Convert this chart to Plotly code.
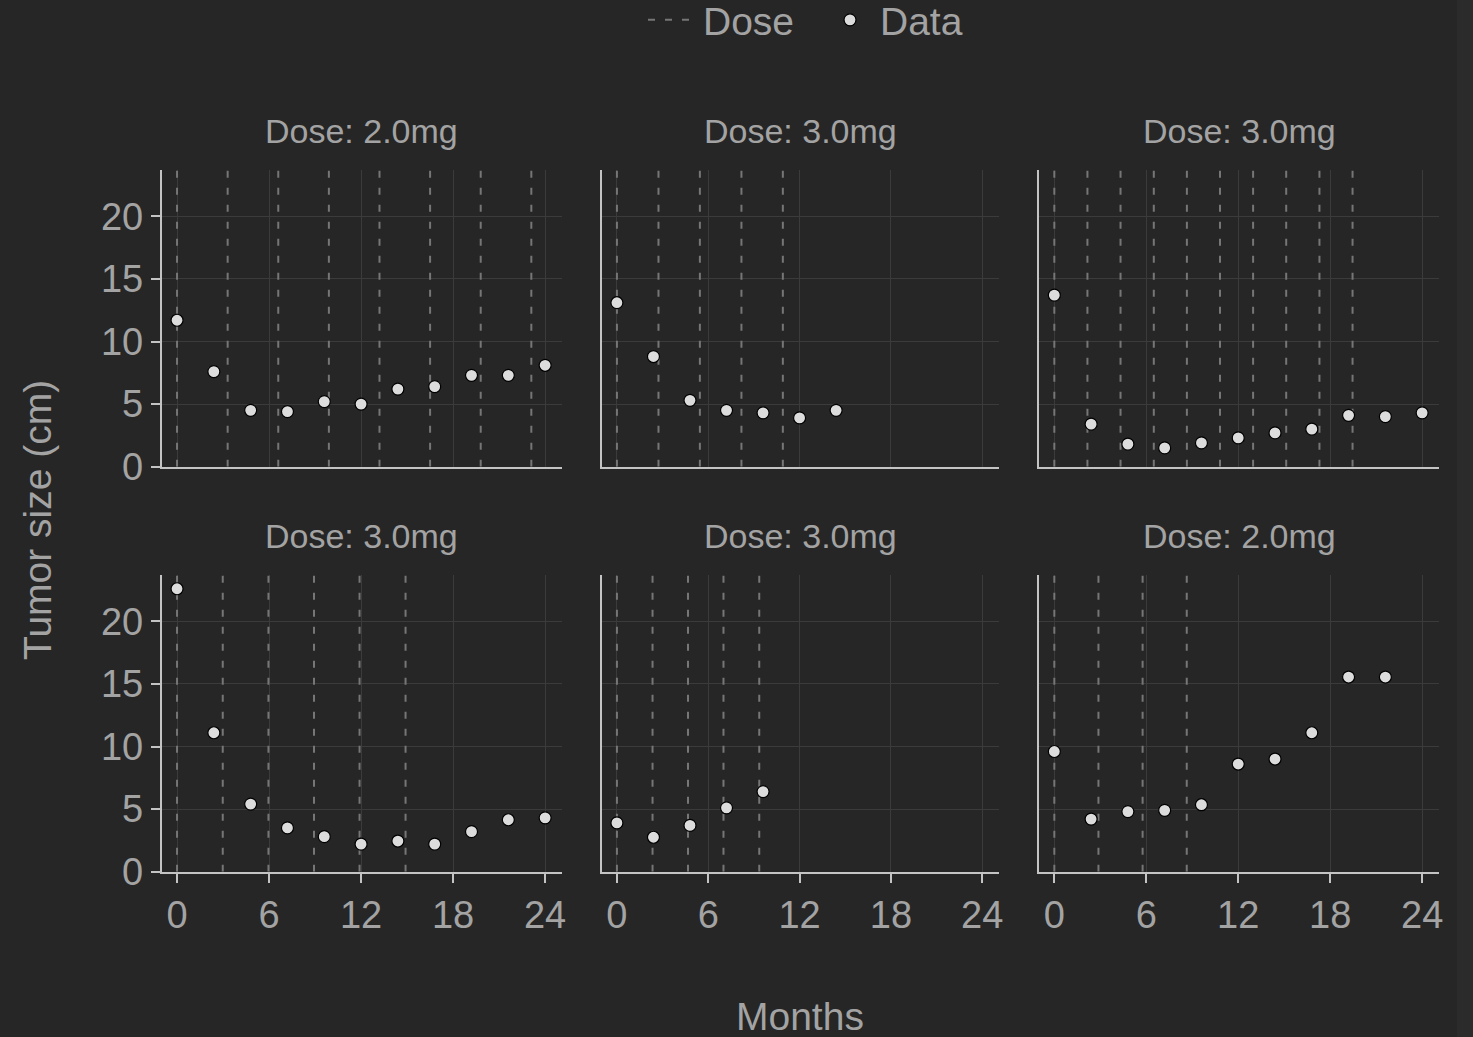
import plotly.graph_objects as go

# ---------------- data ----------------
times = [0, 2.4, 4.8, 7.2, 9.6, 12, 14.4, 16.8, 19.2, 21.6, 24]

dose_labels = ["2.0mg", "3.0mg", "3.0mg", "3.0mg", "3.0mg", "2.0mg"]

size_p1 = [11.7, 7.6, 4.5, 4.4, 5.2, 5.0, 6.2, 6.4, 7.3, 7.3, 8.1]
size_p2 = [13.1, 8.8, 5.3, 4.5, 4.3, 3.9, 4.5]
size_p3 = [13.7, 3.4, 1.8, 1.5, 1.9, 2.3, 2.7, 3.0, 4.1, 4.0, 4.3]
size_p4 = [22.6, 11.1, 5.4, 3.5, 2.8, 2.2, 2.45, 2.2, 3.2, 4.15, 4.3]
size_p5 = [3.9, 2.75, 3.7, 5.1, 6.4]
size_p6 = [9.6, 4.2, 4.8, 4.9, 5.35, 8.6, 9.0, 11.1, 15.55, 15.55]

dose_p1 = [0, 3.3, 6.6, 9.9, 13.2, 16.5, 19.8, 23.1]
dose_p2 = [0, 2.73, 5.45, 8.18, 10.9]
dose_p3 = [0, 2.16, 4.32, 6.49, 8.65, 10.81, 12.97, 15.13, 17.3, 19.46]
dose_p4 = [0, 2.98, 5.96, 8.93, 11.9, 14.9]
dose_p5 = [0, 2.34, 4.67, 7.0, 9.35]
dose_p6 = [0, 2.88, 5.76, 8.64]

sizes = [size_p1, size_p2, size_p3, size_p4, size_p5, size_p6]
doses = [dose_p1, dose_p2, dose_p3, dose_p4, dose_p5, dose_p6]

x_ticks = [0, 6, 12, 18, 24]
y_ticks = [0, 5, 10, 15, 20]
x_range = [-1.0, 25.1]
y_range = [0, 23.7]

# ---------------- style ----------------
W, H = 1473, 1037
BG = "#262626"
TEXT = "#a3a3a3"
SPINE = "#c4c4c4"
GRID = "#3b3b3b"
DOSE_C = "#767676"
FONT = "Liberation Sans, Arial, sans-serif"

col_px = [(161.7, 562.0), (601.7, 999.0), (1039.0, 1439.0)]
row_px = [(170.0, 466.7), (575.0, 871.7)]

fig = go.Figure()
layout_axes = {}
annotations = []

for i in range(6):
    r, c = divmod(i, 3)
    ax = "" if i == 0 else str(i + 1)
    xa, ya = "x" + ax, "y" + ax
    xd = [col_px[c][0] / W, col_px[c][1] / W]
    yd = [1 - row_px[r][1] / H, 1 - row_px[r][0] / H]

    # dose lines
    dx, dy = [], []
    for d in doses[i]:
        dx += [d, d, None]
        dy += [y_range[0], y_range[1], None]
    fig.add_trace(go.Scatter(
        x=dx, y=dy, mode="lines", xaxis=xa, yaxis=ya,
        line=dict(color=DOSE_C, width=2, dash="7px,10px"),
        name="Dose", legendgroup="dose", showlegend=(i == 0),
        hoverinfo="skip"))
    # data
    fig.add_trace(go.Scatter(
        x=times[:len(sizes[i])], y=sizes[i], mode="markers",
        xaxis=xa, yaxis=ya,
        marker=dict(size=12, color="#dcdcdc", line=dict(color="#000000", width=1.2)),
        name="Data", legendgroup="data", showlegend=(i == 0)))

    bottom = (r == 1)
    left = (c == 0)
    layout_axes["xaxis" + ax] = dict(
        domain=xd, range=x_range, anchor=ya, automargin=False,
        tickvals=x_ticks, showticklabels=bottom,
        ticks="outside" if bottom else "", ticklen=9, tickwidth=1.5, tickcolor=SPINE,
        showgrid=True, gridcolor=GRID, gridwidth=1, zeroline=False,
        showline=True, linecolor=SPINE, linewidth=1.8,
        tickfont=dict(family=FONT, size=38, color=TEXT))
    layout_axes["yaxis" + ax] = dict(
        domain=yd, range=y_range, anchor=xa, automargin=False,
        tickvals=y_ticks, showticklabels=left,
        ticks="outside" if left else "", ticklen=9, tickwidth=1.5, tickcolor=SPINE,
        showgrid=True, gridcolor=GRID, gridwidth=1, zeroline=False,
        showline=True, linecolor=SPINE, linewidth=1.8,
        tickfont=dict(family=FONT, size=38, color=TEXT))

    annotations.append(dict(
        text="Dose: " + dose_labels[i], xref="paper", yref="paper",
        x=(xd[0] + xd[1]) / 2, y=1 - (row_px[r][0] - 39) / H,
        xanchor="center", yanchor="middle", showarrow=False,
        font=dict(family=FONT, size=34, color=TEXT)))

annotations.append(dict(
    text="Months", xref="paper", yref="paper", x=800 / W, y=1 - 1016 / H,
    xanchor="center", yanchor="middle", showarrow=False,
    font=dict(family=FONT, size=39, color=TEXT)))
annotations.append(dict(
    text="Tumor size (cm)", xref="paper", yref="paper", x=37 / W, y=1 - 520 / H,
    xanchor="center", yanchor="middle", showarrow=False, textangle=-90,
    font=dict(family=FONT, size=39, color=TEXT)))

fig.update_layout(
    template="none",
    width=W, height=H,
    margin=dict(l=0, r=0, t=0, b=0, autoexpand=False),
    paper_bgcolor=BG, plot_bgcolor=BG,
    font=dict(family=FONT, color=TEXT),
    showlegend=True,
    legend=dict(orientation="h", x=820 / W, y=1 - 20 / H, xanchor="center", yanchor="middle",
                font=dict(family=FONT, size=39, color=TEXT), bgcolor="rgba(0,0,0,0)",
                itemwidth=50, entrywidth=112, tracegroupgap=0),
    annotations=annotations,
    shapes=[dict(type="rect", xref="paper", yref="paper", x0=1457 / W, x1=1, y0=0, y1=1,
                 fillcolor="#2b2b2b", line=dict(width=0), layer="below")],
    **layout_axes)

fig.write_html(
    "out.html",
    config={"displayModeBar": False},
    post_script="document.body.style.margin='0';document.body.style.overflow='hidden';"
                "document.documentElement.style.overflow='hidden';"
                "document.body.style.background='#262626';")
